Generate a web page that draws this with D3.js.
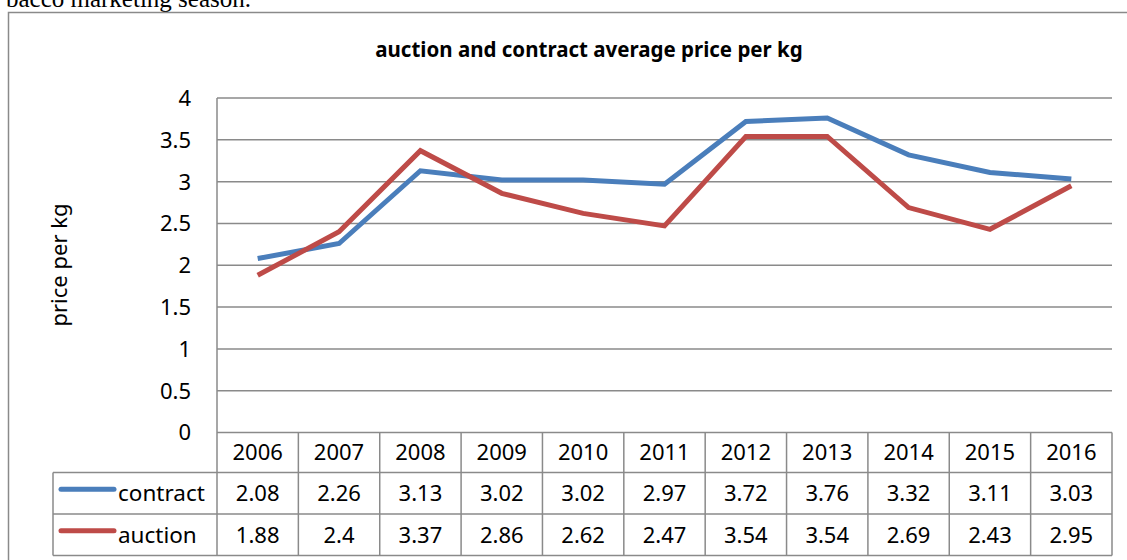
<!DOCTYPE html>
<html>
<head>
<meta charset="utf-8">
<script src="https://cdn.jsdelivr.net/npm/d3@7"></script>
<style>
  body { margin: 0; background: white; }
  svg { display: block; }
</style>
</head>
<body>
<svg id="chart"></svg>
<script>
var years = ["2006","2007","2008","2009","2010","2011","2012","2013","2014","2015","2016"];
var contract = [2.08, 2.26, 3.13, 3.02, 3.02, 2.97, 3.72, 3.76, 3.32, 3.11, 3.03];
var auction = [1.88, 2.4, 3.37, 2.86, 2.62, 2.47, 3.54, 3.54, 2.69, 2.43, 2.95];
var yTicks = [0, 0.5, 1, 1.5, 2, 2.5, 3, 3.5, 4];

var series = [
  {name: "contract", values: contract, color: "#4a7ebb"},
  {name: "auction", values: auction, color: "#be4b48"}
];

var W = 1127, H = 560;
var plot = {left: 217, right: 1112, top: 98, bottom: 432.5};
var rowH = [40, 41.5, 41.5];   // header, contract, auction
var tableLeft = 53;
var grid = "#8a8a8a";
var font = "'Noto Sans', sans-serif";

var svg = d3.select("#chart").attr("width", W).attr("height", H);

// text of the page above the chart, cut off by the crop
svg.append("text")
  .attr("x", 251).attr("y", 7)
  .attr("text-anchor", "end")
  .style("font-family", "'Liberation Serif', serif")
  .style("font-size", "25px")
  .text("bacco marketing season.");

// chart frame (runs off the right and bottom)
svg.append("rect")
  .attr("x", 8.5).attr("y", 12.5)
  .attr("width", 1200).attr("height", 600)
  .attr("fill", "none").attr("stroke", grid).attr("stroke-width", 1.5);

svg.append("text")
  .attr("x", 589).attr("y", 57)
  .attr("text-anchor", "middle")
  .style("font-family", font).style("font-weight", "bold")
  .style("font-size", "20.5px")
  .text("auction and contract average price per kg");

var x = d3.scaleBand().domain(years).range([plot.left, plot.right]);
var y = d3.scaleLinear().domain([0, 4]).range([plot.bottom, plot.top]);

// gridlines
svg.append("g").selectAll("line")
  .data(yTicks)
  .enter().append("line")
    .attr("x1", plot.left).attr("x2", plot.right)
    .attr("y1", d => y(d)).attr("y2", d => y(d))
    .attr("stroke", grid).attr("stroke-width", 1.5);

// y tick labels
svg.append("g").selectAll("text")
  .data(yTicks)
  .enter().append("text")
    .attr("x", 191).attr("y", d => y(d))
    .attr("dy", "0.36em")
    .attr("text-anchor", "end")
    .style("font-family", font).style("font-size", "22px")
    .text(d => d);

svg.append("text")
  .attr("transform", "translate(67,265) rotate(-90)")
  .attr("text-anchor", "middle")
  .style("font-family", font).style("font-size", "22px")
  .text("price per kg");

// lines
var line = d3.line()
  .x((d, i) => x(years[i]) + x.bandwidth() / 2)
  .y(d => y(d));

svg.append("g").selectAll("path")
  .data(series)
  .enter().append("path")
    .attr("d", d => line(d.values))
    .attr("fill", "none")
    .attr("stroke", d => d.color)
    .attr("stroke-width", 5)
    .attr("stroke-linejoin", "miter");

// data table
var r0 = plot.bottom, r1 = r0 + rowH[0], r2 = r1 + rowH[1], r3 = r2 + rowH[2];
var t = svg.append("g");

// horizontal rules
t.append("line").attr("x1", tableLeft).attr("x2", plot.right).attr("y1", r1).attr("y2", r1);
t.append("line").attr("x1", tableLeft).attr("x2", plot.right).attr("y1", r2).attr("y2", r2);
t.append("line").attr("x1", tableLeft).attr("x2", plot.right).attr("y1", r3).attr("y2", r3);
t.append("line").attr("x1", tableLeft).attr("x2", tableLeft).attr("y1", r1).attr("y2", r3);
// axis line + column rules
t.append("line").attr("x1", plot.left).attr("x2", plot.left).attr("y1", plot.top).attr("y2", r3);
t.selectAll(".col")
  .data(years)
  .enter().append("line")
    .attr("class", "col")
    .attr("x1", d => x(d) + x.bandwidth()).attr("x2", d => x(d) + x.bandwidth())
    .attr("y1", r0).attr("y2", r3);
t.selectAll("line").attr("stroke", grid).attr("stroke-width", 1.5);

t.selectAll(".yr")
  .data(years)
  .enter().append("text")
    .attr("class", "yr")
    .attr("x", d => x(d) + x.bandwidth() / 2)
    .attr("y", (r0 + r1) / 2)
    .attr("dy", "0.36em")
    .attr("text-anchor", "middle")
    .style("font-family", font).style("font-size", "22px")
    .text(d => d);

var rowsY = [(r1 + r2) / 2, (r2 + r3) / 2];
series.forEach(function(s, k) {
  var cy = rowsY[k];
  t.append("line")
    .attr("x1", 61).attr("x2", 114).attr("y1", cy - 4).attr("y2", cy - 4)
    .attr("stroke", s.color).attr("stroke-width", 5).attr("stroke-linecap", "round");
  t.append("text")
    .attr("x", 118).attr("y", cy).attr("dy", "0.36em")
    .style("font-family", font).style("font-size", "22.5px")
    .text(s.name);
  t.selectAll(".v" + k)
    .data(s.values)
    .enter().append("text")
      .attr("x", (d, i) => x(years[i]) + x.bandwidth() / 2)
      .attr("y", cy).attr("dy", "0.36em")
      .attr("text-anchor", "middle")
      .style("font-family", font).style("font-size", "22px")
      .text(d => d);
});
</script>
</body>
</html>
